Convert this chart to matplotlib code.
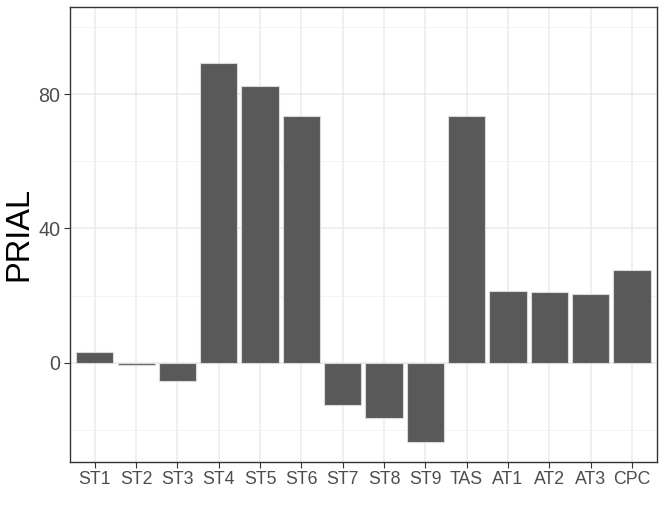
import numpy as np
import matplotlib.pyplot as plt
from matplotlib.ticker import MultipleLocator

plt.rcParams['font.family'] = ['Liberation Sans', 'DejaVu Sans']

# datos
metodos = ["ST1", "ST2", "ST3", "ST4", "ST5", "ST6", "ST7", "ST8", "ST9",
           "TAS", "AT1", "AT2", "AT3", "CPC"]
prial = [3.1, -0.8, -5.5, 89.2, 82.4, 73.6, -12.7, -16.6, -23.5,
         73.6, 21.5, 21.2, 20.4, 27.5]

x = np.arange(1, len(metodos) + 1)

fig = plt.figure(figsize=(6.64, 5.16), dpi=100)
ax = fig.add_axes([70/664, (516-461.7)/516, (656.7-70)/664, (461.7-6.7)/516])

ax.bar(x, prial, width=0.9, color="#595959", edgecolor="#d9d9d9", linewidth=0.8, zorder=3)

ax.set_xlim(0.4, 14.6)
ax.set_ylim(-29.5, 106.1)
ax.set_xticks(x)
ax.set_xticklabels(metodos)
ax.set_yticks([0, 40, 80])
ax.yaxis.set_minor_locator(MultipleLocator(20))
ax.tick_params(axis="y", which="minor", length=0)

ax.grid(True, which="major", color="#ebebeb", linewidth=1.1, zorder=0)
ax.grid(True, which="minor", axis="y", color="#f2f2f2", linewidth=0.6, zorder=0)
ax.set_axisbelow(True)

for s in ax.spines.values():
    s.set_color("#333333")
    s.set_linewidth(1.0)

ax.tick_params(axis="x", which="major", labelsize=12.8, labelcolor="#4d4d4d",
               color="#333333", length=4, width=0.8, pad=3)
ax.tick_params(axis="y", which="major", labelsize=14.2, labelcolor="#4d4d4d",
               color="#333333", length=4, width=0.8, pad=3)

ax.set_ylabel("PRIAL", fontsize=23.5, labelpad=3)

fig.savefig("out.png", dpi=100)
